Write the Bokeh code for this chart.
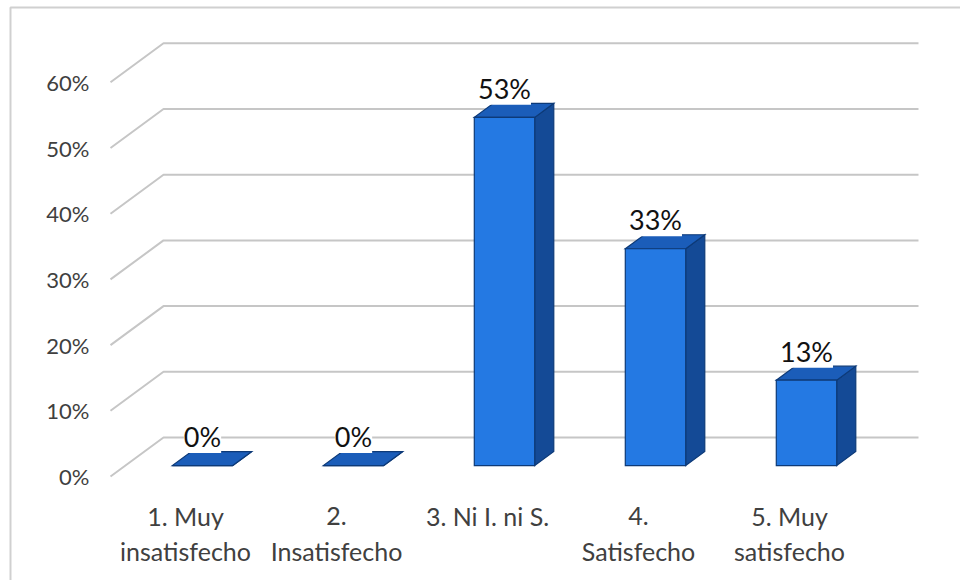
from bokeh.plotting import figure
from bokeh.models import Range1d, ColumnDataSource
from bokeh.core.properties import value
from bokeh.embed import file_html
from bokeh.resources import INLINE

# ---- data -----------------------------------------------------------------
categories = ["1. Muy\ninsatisfecho", "2.\nInsatisfecho", "3. Ni I. ni S.",
              "4.\nSatisfecho", "5. Muy\nsatisfecho"]
percentages = [0, 0, 53, 33, 13]
value_labels = ["0%", "0%", "53%", "33%", "13%"]
tick_values = [0, 10, 20, 30, 40, 50, 60]
tick_labels = ["0%", "10%", "20%", "30%", "40%", "50%", "60%"]

# ---- layout of the pseudo-3D scene ----------------------------------------
W, H = 960, 580
PX_PER_CAT = 151.0       # horizontal pixels per category slot
PX_PER_PCT = 6.57        # vertical pixels per percentage point
ORIGIN_PX = 202.0        # pixel x of the first bar's front centre
BASE_PY = 437.0          # pixel y (from top) of 0% on the back wall


def sx(px):
    return (px - ORIGIN_PX) / PX_PER_CAT


def sy(py):
    return (BASE_PY - py) / PX_PER_PCT


# depth vector: back wall -> front plane
DX = -53.0 / PX_PER_CAT
DY = -39.0 / PX_PER_PCT
WALL_X0 = sx(163)
WALL_X1 = sx(918)

# bars sit between depth 0.36 (back face) and 0.72 (front face)
FRONT_D, BACK_D = 0.72, 0.36
F0 = FRONT_D * DY                   # y of the front face bottom
BX = (FRONT_D - BACK_D) * -DX       # back-face offset
BY = (FRONT_D - BACK_D) * -DY
HALF_W = 0.2

FONT = "Lato"

p = figure(width=W, height=H, output_backend="svg", toolbar_location=None,
           x_range=Range1d(sx(0), sx(W)), y_range=Range1d(sy(H), sy(0)),
           x_axis_type=None, y_axis_type=None, min_border=0,
           background_fill_color="white", border_fill_color="white")
p.outline_line_color = None
p.grid.visible = False

# outer chart border
p.line([sx(10), sx(10), sx(W + 5)], [sy(H + 5), sy(7), sy(7)],
       line_color="#d0d0d0", line_width=2)

# back-wall gridlines and their perspective side lines
gx, gy = [], []
for t in tick_values:
    gx.append([WALL_X0 + DX, WALL_X0, WALL_X1])
    gy.append([t + DY, t, t])
p.multi_line(gx, gy, line_color="#c6c6c6", line_width=2)

# bars: side, top and front faces
side_x, side_y, top_x, top_y, front_x, front_y = [], [], [], [], [], []
for i, v in enumerate(percentages):
    l, r = i - HALF_W, i + HALF_W
    b, t = F0, F0 + v
    side_x.append([r, r + BX, r + BX, r])
    side_y.append([b, b + BY, t + BY, t])
    top_x.append([l, r, r + BX, l + BX])
    top_y.append([t, t, t + BY, t + BY])
    front_x.append([l, r, r, l])
    front_y.append([b, b, t, t])

edge = dict(line_color="#0d3a78", line_width=1.2, line_join="miter")
p.patches(side_x, side_y, fill_color="#144a96", **edge)
p.patches(top_x, top_y, fill_color="#1b5db9", **edge)
p.patches(front_x, front_y, fill_color="#2479e3", **edge)

# value labels above each bar
lab = ColumnDataSource(dict(
    x=list(range(len(percentages))),
    y=[F0 + BY + v + 15 / PX_PER_PCT for v in percentages],
    text=value_labels))
p.text("x", "y", text="text", source=lab, text_align="center",
       text_baseline="middle", text_font=value(FONT), text_font_size="27px",
       text_color="#111111", background_fill_color="white")

# value axis labels on the front plane
ticks = ColumnDataSource(dict(x=[sx(89)] * len(tick_values),
                              y=[t + DY for t in tick_values],
                              text=tick_labels))
p.text("x", "y", text="text", source=ticks, text_align="right",
       text_baseline="middle", text_font=value(FONT), text_font_size="22px",
       text_color="#404040")

# category labels (one or two lines each)
line1 = [c.split("\n")[0] for c in categories]
line2 = [c.split("\n")[1] if "\n" in c else "" for c in categories]
cx = [i - 17 / PX_PER_CAT for i in range(len(categories))]
cats1 = ColumnDataSource(dict(x=cx, y=[sy(515)] * len(cx), text=line1))
cats2 = ColumnDataSource(dict(x=cx, y=[sy(550)] * len(cx), text=line2))
for src in (cats1, cats2):
    p.text("x", "y", text="text", source=src, text_align="center",
           text_baseline="middle", text_font=value(FONT), text_font_size="25px",
           text_color="#404040")

open("out.html", "w").write(file_html(p, INLINE))
